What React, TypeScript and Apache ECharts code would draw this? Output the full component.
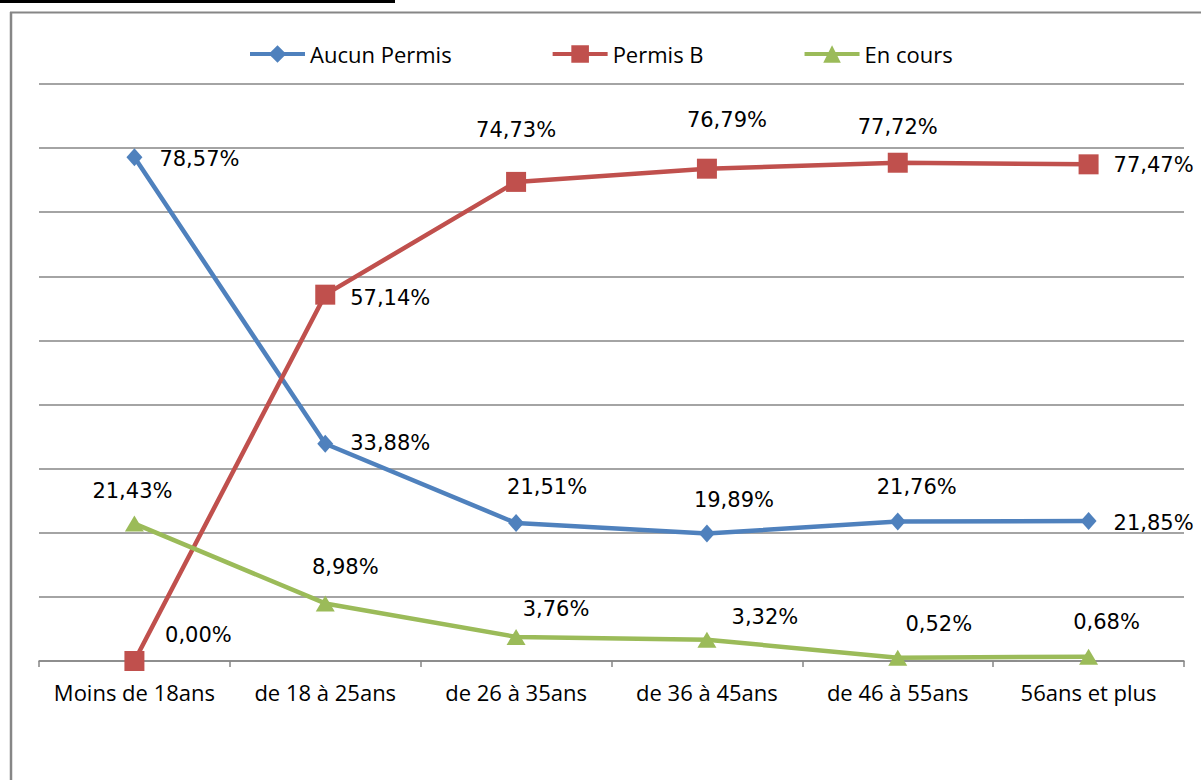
import React, { useEffect, useRef } from "react";
import * as echarts from "echarts";

const categories = [
  "Moins de 18ans",
  "de 18 à 25ans",
  "de 26 à 35ans",
  "de 36 à 45ans",
  "de 46 à 55ans",
  "56ans et plus",
];
const seriesNames = ["Aucun Permis", "Permis B", "En cours"];
const aucunPermis = [78.57, 33.88, 21.51, 19.89, 21.76, 21.85];
const permisB = [0.0, 57.14, 74.73, 76.79, 77.72, 77.47];
const enCours = [21.43, 8.98, 3.76, 3.32, 0.52, 0.68];

// label placement (offset of label centre from point, px)
const aucunOffsets = [[65, 2], [65, -1], [31, -36], [27, -33], [19, -34], [65, 2]];
const permisOffsets = [[64, -26], [65, 3], [0, -52], [20, -49], [0, -36], [65, 1]];
const coursOffsets = [[-2, -33], [20, -36], [40, -28], [58, -23], [41, -34], [18, -35]];

const colors = ["#4F81BD", "#C0504D", "#9BBB59"];
const symbols = ["diamond", "rect", "triangle"];
const symbolSizes = [[16, 18], [20, 20], [19, 16]];

const fmt = (v: number) => v.toFixed(2).replace(".", ",") + "%";

export default function App() {
  const ref = useRef<HTMLDivElement>(null);
  useEffect(() => {
    if (!ref.current) return;
    const chart = echarts.init(ref.current, undefined, { renderer: "svg" });
    const all = [aucunPermis, permisB, enCours];
    const offs = [aucunOffsets, permisOffsets, coursOffsets];
    chart.setOption({
      animation: false,
      backgroundColor: "#ffffff",
      graphic: [
        { type: "line", shape: { x1: 0, y1: 1.5, x2: 395, y2: 1.5 }, style: { stroke: "#000", lineWidth: 3 } },
        { type: "line", shape: { x1: 11, y1: 12, x2: 11, y2: 780 }, style: { stroke: "#868686", lineWidth: 2.5 } },
        { type: "line", shape: { x1: 10, y1: 12.5, x2: 1201, y2: 12.5 }, style: { stroke: "#868686", lineWidth: 2 } },
      ],
      legend: {
        top: 38,
        left: 243,
        itemWidth: 55,
        itemHeight: 22,
        itemGap: 99,
        lineStyle: { width: 4 },
        textStyle: { fontFamily: "Open Sans", fontSize: 22, color: "#000" },
        data: seriesNames,
      },
      grid: { left: 39, right: 17, top: 84, bottom: 119 },
      xAxis: {
        type: "category",
        data: categories,
        boundaryGap: true,
        axisLine: { lineStyle: { color: "#868686", width: 1.5 } },
        axisTick: { show: true, interval: 0, length: 6, lineStyle: { color: "#868686", width: 1.5 } },
        axisLabel: { interval: 0, fontFamily: "Open Sans", fontSize: 22, color: "#000", margin: 20 },
      },
      yAxis: {
        type: "value",
        min: 0,
        max: 90,
        interval: 10,
        axisLabel: { show: false },
        axisLine: { show: false },
        axisTick: { show: false },
        splitLine: { lineStyle: { color: "#868686", width: 1.5 } },
      },
      series: all.map((arr, si) => ({
        name: seriesNames[si],
        type: "line",
        symbol: symbols[si],
        symbolSize: symbolSizes[si],
        lineStyle: { color: colors[si], width: 4.5 },
        itemStyle: { color: colors[si] },
        label: {
          show: true,
          position: "inside",
          fontFamily: "DejaVu Sans",
          fontSize: 21,
          color: "#000",
          formatter: (p: any) => fmt(p.value),
        },
        data: arr.map((v, i) => ({ value: v, label: { offset: offs[si][i] } })),
      })),
    });
    return () => chart.dispose();
  }, []);
  return <div ref={ref} style={{ position: "absolute", left: 0, top: 0, width: 1201, height: 780 }} />;
}
